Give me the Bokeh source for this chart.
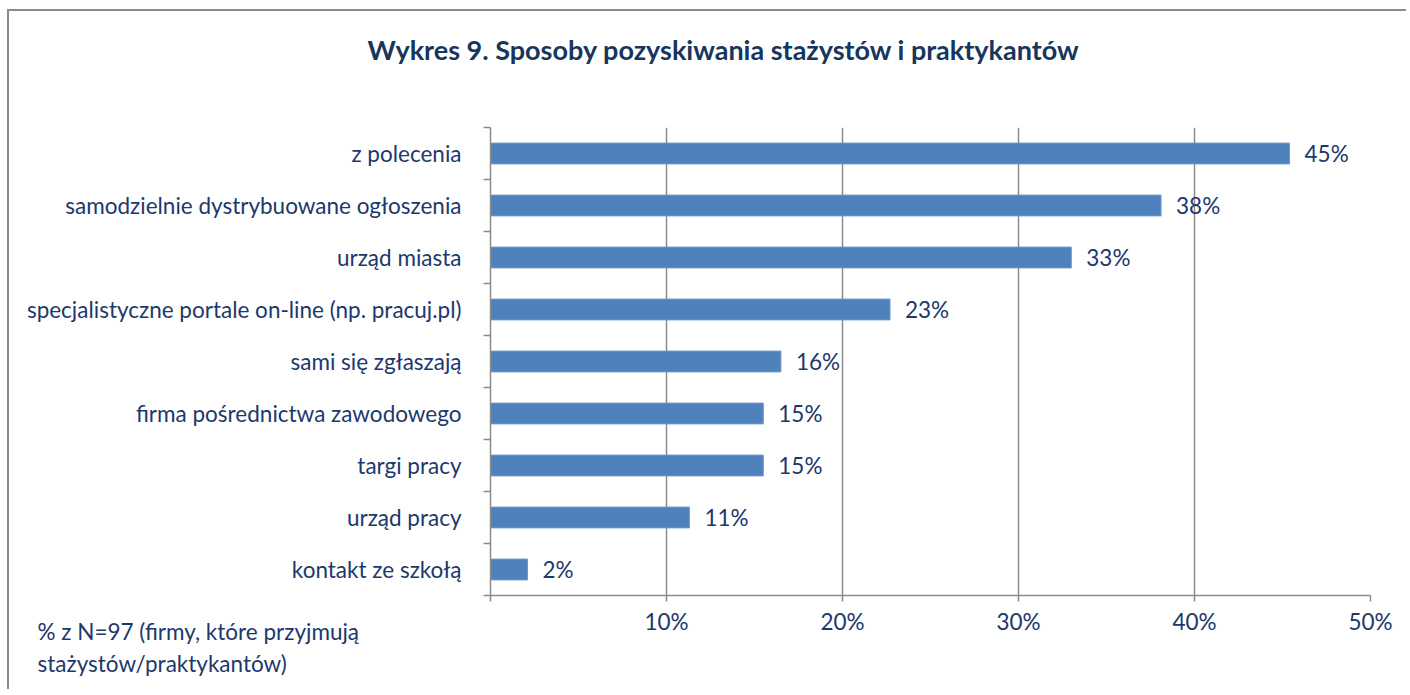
from bokeh.plotting import figure
from bokeh.models import Range1d, FixedTicker, Title
from bokeh.core.properties import value
from bokeh.embed import file_html
from bokeh.resources import INLINE

title_text = "Wykres 9. Sposoby pozyskiwania stażystów i praktykantów"
categories = [
    "z polecenia",
    "samodzielnie dystrybuowane ogłoszenia",
    "urząd miasta",
    "specjalistyczne portale on-line (np. pracuj.pl)",
    "sami się zgłaszają",
    "firma pośrednictwa zawodowego",
    "targi pracy",
    "urząd pracy",
    "kontakt ze szkołą",
]
values = [45.4, 38.1, 33.0, 22.7, 16.5, 15.5, 15.5, 11.3, 2.1]
value_labels = ["45%", "38%", "33%", "23%", "16%", "15%", "15%", "11%", "2%"]
x_ticks = [0, 10, 20, 30, 40, 50]
x_tick_labels = ["", "10%", "20%", "30%", "40%", "50%"]
footnote = ["% z N=97 (firmy, które przyjmują", "stażystów/praktykantów)"]

FONT = "Lato"
FS = "22.5px"
TXT = "#1C386C"
GRID = "#8c8c8c"
n = len(categories)
ypos = [n - i - 0.5 for i in range(n)]

p = figure(width=1399, height=680, output_backend="svg", toolbar_location=None,
           x_range=Range1d(0, 50), y_range=Range1d(0, n),
           min_border_left=481, min_border_right=38, min_border_top=116, min_border_bottom=96)
p.margin = (9, 0, 0, 7)
p.styles = {"border-left": "2px solid #8a8a8a", "border-top": "2px solid #8a8a8a"}
p.outline_line_color = None
p.background_fill_color = "white"
p.border_fill_color = "white"

p.hbar(y=ypos, right=values, left=0, height=0.4, fill_color="#4F81BD",
       line_color="#6f97c8", line_width=1)
p.text(x=values, y=ypos, text=value_labels, x_offset=15, text_baseline="middle",
       text_align="left", text_font=value(FONT), text_font_size=FS, text_color=TXT)

# x axis
p.xaxis.ticker = FixedTicker(ticks=x_ticks)
p.xaxis.major_label_overrides = {t: l for t, l in zip(x_ticks, x_tick_labels)}
p.xaxis.major_tick_out = 6
p.xaxis.major_tick_in = 0
p.xaxis.minor_tick_out = 0
p.xaxis.minor_tick_in = 0
p.xaxis.axis_line_color = GRID
p.xaxis.axis_line_width = 1.5
p.xaxis.major_tick_line_color = GRID
p.xaxis.major_tick_line_width = 1.5
p.xaxis.major_label_text_font = FONT
p.xaxis.major_label_text_font_size = FS
p.xaxis.major_label_text_color = TXT
p.xaxis.major_label_standoff = 6

# y axis
p.yaxis.ticker = FixedTicker(ticks=ypos, minor_ticks=list(range(n + 1)))
p.yaxis.major_label_overrides = {y: c for y, c in zip(ypos, categories)}
p.yaxis.major_tick_out = 0
p.yaxis.major_tick_in = 0
p.yaxis.minor_tick_out = 7
p.yaxis.minor_tick_in = 0
p.yaxis.minor_tick_line_color = GRID
p.yaxis.minor_tick_line_width = 1.5
p.yaxis.axis_line_color = GRID
p.yaxis.axis_line_width = 1.5
p.yaxis.major_label_text_font = FONT
p.yaxis.major_label_text_font_size = FS
p.yaxis.major_label_text_color = TXT
p.yaxis.major_label_standoff = 22

p.xgrid.ticker = FixedTicker(ticks=x_ticks)
p.xgrid.grid_line_color = GRID
p.xgrid.grid_line_width = 1.5
p.ygrid.grid_line_color = None

# spacer panel between frame and title, then the title itself
p.add_layout(Title(text=" ", text_font_size="10px", standoff=44), "above")
p.add_layout(Title(text=title_text, align="left", offset=-123, standoff=10,
                   text_font=FONT, text_font_size="27px", text_font_style="bold",
                   text_color="#17365D"), "above")
p.add_layout(Title(text="\n".join(footnote), align="left", offset=-453, standoff=-40,
                   vertical_align="top", text_line_height=1.22,
                   text_font=FONT, text_font_size=FS, text_font_style="normal",
                   text_color=TXT), "below")

open("out.html", "w").write(file_html(p, INLINE))
